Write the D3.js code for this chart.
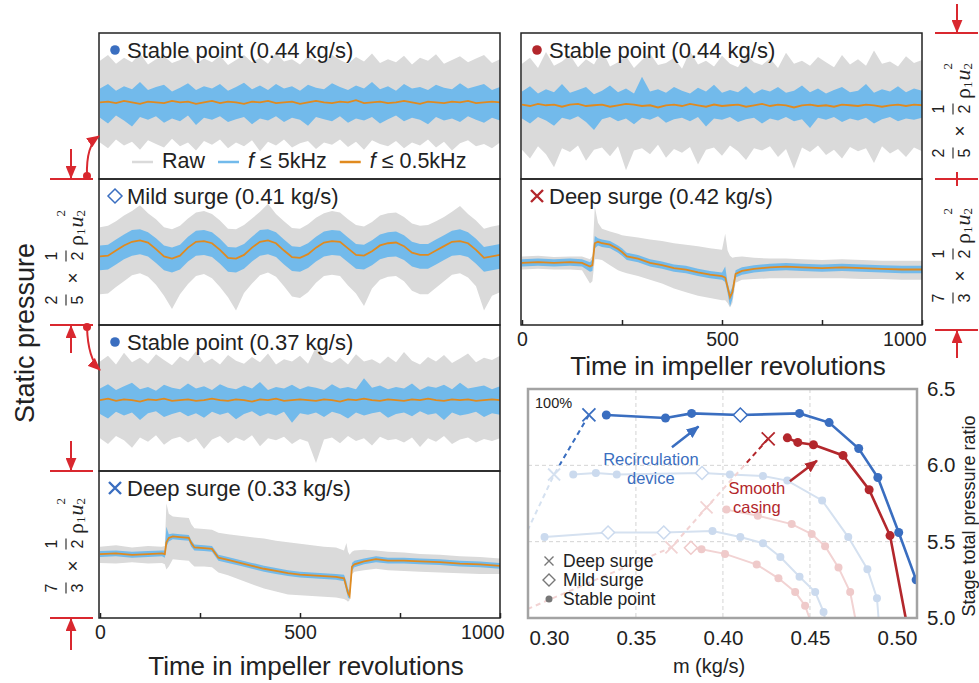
<!DOCTYPE html>
<html>
<head>
<meta charset="utf-8">
<script src="https://cdn.jsdelivr.net/npm/d3@7"></script>
<style>
    body { margin: 0; background: #fff; }
    svg { display: block; }
    text { font-family: 'Liberation Sans', Arial, sans-serif; fill: #222; }
</style>
</head>
<body>
<svg id="chart" width="979" height="683"></svg>
<script>
// 时间轴 (叶轮转数)
const timeTicks = [0, 250, 500, 750, 1000]
const timeTickLabels = ['0', '', '500', '', '1000']

// 稳定点 / 轻度喘振 记录的采样转数
const revGrid = [
    0, 20, 40, 60, 80, 100, 120, 140, 160, 180,
    200, 220, 240, 260, 280, 300, 320, 340, 360, 380,
    400, 420, 440, 460, 480, 500, 520, 540, 560, 580,
    600, 620, 640, 660, 680, 700, 720, 740, 760, 780,
    800, 820, 840, 860, 880, 900, 920, 940, 960, 980,
    1000
]

// 左上: Stable point (0.44 kg/s), recirculation device
const p1RawUp = [
    0.62, 0.70, 0.58, 0.66, 0.60, 0.72, 0.57, 0.64, 0.68, 0.59,
    0.63, 0.71, 0.58, 0.65, 0.60, 0.69, 0.56, 0.63, 0.70, 0.60,
    0.66, 0.58, 0.73, 0.61, 0.64, 0.57, 0.68, 0.62, 0.59, 0.70,
    0.63, 0.58, 0.67, 0.61, 0.72, 0.59, 0.64, 0.60, 0.69, 0.57,
    0.66, 0.62, 0.71, 0.58, 0.63, 0.68, 0.60, 0.65, 0.70, 0.59,
    0.64
]
const p1RawLo = [
    -0.50, -0.58, -0.46, -0.54, -0.49, -0.60, -0.47, -0.52, -0.57, -0.45,
    -0.55, -0.50, -0.61, -0.48, -0.53, -0.46, -0.58, -0.50, -0.55, -0.47,
    -0.62, -0.49, -0.54, -0.46, -0.57, -0.51, -0.48, -0.59, -0.50, -0.53,
    -0.46, -0.56, -0.49, -0.60, -0.47, -0.52, -0.55, -0.48, -0.58, -0.50,
    -0.54, -0.46, -0.57, -0.49, -0.61, -0.51, -0.47, -0.55, -0.52, -0.58,
    -0.50
]
const p1BlueUp = [
    0.24, 0.30, 0.21, 0.27, 0.23, 0.33, 0.22, 0.26, 0.29, 0.20,
    0.25, 0.31, 0.22, 0.27, 0.24, 0.30, 0.21, 0.26, 0.32, 0.23,
    0.28, 0.22, 0.30, 0.24, 0.27, 0.21, 0.29, 0.25, 0.23, 0.31,
    0.26, 0.22, 0.28, 0.24, 0.33, 0.23, 0.27, 0.21, 0.30, 0.24,
    0.26, 0.22, 0.29, 0.25, 0.23, 0.31, 0.24, 0.27, 0.30, 0.22,
    0.26
]
const p1BlueLo = [
    -0.16, -0.24, -0.13, -0.20, -0.28, -0.15, -0.19, -0.14, -0.23, -0.17,
    -0.21, -0.13, -0.26, -0.16, -0.19, -0.14, -0.22, -0.18, -0.15, -0.25,
    -0.17, -0.20, -0.14, -0.22, -0.16, -0.19, -0.27, -0.15, -0.18, -0.21,
    -0.14, -0.23, -0.17, -0.20, -0.15, -0.24, -0.18, -0.13, -0.21, -0.16,
    -0.19, -0.25, -0.15, -0.20, -0.17, -0.22, -0.14, -0.19, -0.23, -0.16,
    -0.20
]
const p1Orange = [
    0.05, 0.06, 0.04, 0.07, 0.05, 0.03, 0.06, 0.05, 0.04, 0.07,
    0.05, 0.06, 0.03, 0.05, 0.07, 0.04, 0.06, 0.05, 0.03, 0.06,
    0.05, 0.07, 0.04, 0.05, 0.06, 0.03, 0.05, 0.07, 0.05, 0.04,
    0.06, 0.05, 0.08, 0.04, 0.05, 0.06, 0.04, 0.05, 0.07, 0.05,
    0.03, 0.06, 0.05, 0.04, 0.06, 0.05, 0.07, 0.04, 0.05, 0.06,
    0.05
]

// 左二: Mild surge (0.41 kg/s)
const p2RawUp = [
    0.34, 0.36, 0.42, 0.50, 0.56, 0.64, 0.53, 0.45, 0.34, 0.31,
    0.36, 0.46, 0.54, 0.56, 0.52, 0.43, 0.32, 0.31, 0.37, 0.46,
    0.55, 0.66, 0.52, 0.42, 0.33, 0.32, 0.38, 0.47, 0.53, 0.56,
    0.54, 0.45, 0.37, 0.35, 0.41, 0.50, 0.53, 0.54, 0.48, 0.39,
    0.36, 0.37, 0.42, 0.48, 0.55, 0.63, 0.52, 0.43, 0.32, 0.35,
    0.37
]
const p2RawLo = [
    -0.58, -0.57, -0.48, -0.40, -0.32, -0.29, -0.34, -0.45, -0.60, -0.78,
    -0.58, -0.44, -0.33, -0.30, -0.36, -0.48, -0.62, -0.80, -0.56, -0.43,
    -0.32, -0.28, -0.34, -0.47, -0.61, -0.63, -0.55, -0.42, -0.33, -0.31,
    -0.33, -0.46, -0.57, -0.74, -0.50, -0.38, -0.34, -0.33, -0.40, -0.53,
    -0.58, -0.58, -0.49, -0.40, -0.31, -0.29, -0.35, -0.47, -0.80, -0.60,
    -0.55
]
const p2BlueUp = [
    0.09, 0.10, 0.17, 0.24, 0.30, 0.31, 0.27, 0.19, 0.09, 0.06,
    0.10, 0.21, 0.29, 0.30, 0.27, 0.18, 0.07, 0.06, 0.11, 0.21,
    0.30, 0.31, 0.27, 0.17, 0.08, 0.07, 0.12, 0.21, 0.28, 0.30,
    0.29, 0.20, 0.11, 0.10, 0.16, 0.24, 0.27, 0.28, 0.23, 0.14,
    0.11, 0.11, 0.17, 0.23, 0.29, 0.31, 0.27, 0.18, 0.07, 0.09,
    0.11
]
const p2BlueLo = [
    -0.25, -0.24, -0.17, -0.10, -0.05, -0.03, -0.06, -0.15, -0.25, -0.28,
    -0.24, -0.13, -0.05, -0.04, -0.07, -0.16, -0.27, -0.28, -0.23, -0.13,
    -0.05, -0.03, -0.07, -0.17, -0.26, -0.27, -0.22, -0.13, -0.06, -0.04,
    -0.05, -0.14, -0.23, -0.24, -0.18, -0.10, -0.07, -0.06, -0.11, -0.20,
    -0.23, -0.23, -0.17, -0.11, -0.05, -0.04, -0.07, -0.16, -0.27, -0.25,
    -0.23
]
const p2Orange = [
    -0.06, -0.05, 0.02, 0.09, 0.14, 0.16, 0.13, 0.04, -0.06, -0.09,
    -0.05, 0.06, 0.14, 0.15, 0.12, 0.03, -0.08, -0.09, -0.04, 0.06,
    0.14, 0.16, 0.12, 0.02, -0.07, -0.08, -0.03, 0.06, 0.13, 0.15,
    0.14, 0.05, -0.04, -0.05, 0.01, 0.09, 0.12, 0.13, 0.08, -0.01,
    -0.04, -0.04, 0.02, 0.08, 0.14, 0.15, 0.12, 0.03, -0.08, -0.06,
    -0.04
]

// 左三: Stable point (0.37 kg/s)
const p3RawUp = [
    0.50, 0.58, 0.46, 0.62, 0.49, 0.55, 0.47, 0.60, 0.52, 0.45,
    0.57, 0.50, 0.64, 0.48, 0.54, 0.46, 0.59, 0.51, 0.47, 0.56,
    0.49, 0.61, 0.46, 0.53, 0.50, 0.58, 0.47, 0.70, 0.52, 0.48,
    0.55, 0.46, 0.60, 0.50, 0.53, 0.47, 0.57, 0.49, 0.63, 0.51,
    0.46, 0.56, 0.50, 0.59, 0.48, 0.54, 0.61, 0.49, 0.55, 0.52,
    0.58
]
const p3RawLo = [
    -0.55, -0.63, -0.52, -0.58, -0.68, -0.54, -0.60, -0.51, -0.64, -0.56,
    -0.53, -0.61, -0.55, -0.70, -0.57, -0.52, -0.62, -0.54, -0.59, -0.51,
    -0.66, -0.55, -0.58, -0.53, -0.63, -0.56, -0.60, -0.89, -0.57, -0.54,
    -0.62, -0.52, -0.59, -0.55, -0.65, -0.53, -0.58, -0.56, -0.61, -0.54,
    -0.67, -0.55, -0.60, -0.52, -0.63, -0.57, -0.54, -0.61, -0.56, -0.59,
    -0.55
]
const p3BlueUp = [
    0.13, 0.19, 0.11, 0.16, 0.21, 0.12, 0.15, 0.10, 0.18, 0.14,
    0.12, 0.20, 0.13, 0.16, 0.11, 0.19, 0.14, 0.12, 0.17, 0.13,
    0.22, 0.11, 0.15, 0.13, 0.18, 0.12, 0.16, 0.14, 0.11, 0.19,
    0.13, 0.15, 0.12, 0.27, 0.14, 0.17, 0.12, 0.15, 0.13, 0.20,
    0.11, 0.16, 0.14, 0.18, 0.12, 0.21, 0.13, 0.15, 0.17, 0.12,
    0.16
]
const p3BlueLo = [
    -0.22, -0.28, -0.19, -0.24, -0.20, -0.30, -0.21, -0.18, -0.26, -0.22,
    -0.19, -0.25, -0.21, -0.27, -0.19, -0.23, -0.20, -0.29, -0.22, -0.18,
    -0.25, -0.21, -0.24, -0.19, -0.34, -0.21, -0.23, -0.20, -0.26, -0.19,
    -0.22, -0.28, -0.20, -0.24, -0.21, -0.19, -0.27, -0.22, -0.20, -0.25,
    -0.18, -0.23, -0.21, -0.30, -0.20, -0.24, -0.22, -0.19, -0.26, -0.21,
    -0.23
]
const p3Orange = [
    -0.03, -0.01, -0.04, -0.02, -0.03, -0.05, -0.02, -0.03, -0.01, -0.04,
    -0.03, -0.02, -0.04, -0.03, -0.01, -0.03, -0.04, -0.02, -0.03, -0.05,
    -0.02, -0.03, -0.01, -0.04, -0.03, -0.02, -0.03, -0.04, -0.02, -0.03,
    -0.05, -0.02, -0.03, -0.01, -0.03, -0.04, -0.02, -0.03, -0.04, -0.02,
    -0.03, -0.01, -0.03, -0.04, -0.02, -0.03, -0.02, -0.04, -0.03, -0.02,
    -0.03
]

// 左下: Deep surge (0.33 kg/s)
const p4Rev = [
    0, 40, 80, 120, 155, 162, 166, 172, 182, 200,
    222, 228, 236, 260, 280, 296, 320, 350, 380, 410,
    440, 470, 500, 530, 560, 590, 610, 616, 620, 624,
    630, 636, 660, 690, 720, 760, 800, 850, 900, 950,
    1000
]
const p4RawUp = [
    -0.03, -0.01, -0.04, -0.02, -0.03, -0.02, 0.56, 0.42, 0.38, 0.37,
    0.36, 0.28, 0.22, 0.21, 0.20, 0.16, 0.14, 0.12, 0.10, 0.08,
    0.05, 0.03, 0.01, -0.01, -0.03, -0.04, -0.08, 0.02, -0.10, -0.14,
    -0.10, -0.08, -0.07, -0.08, -0.10, -0.11, -0.13, -0.14, -0.16, -0.17,
    -0.19
]
const p4RawLo = [
    -0.25, -0.26, -0.24, -0.26, -0.25, -0.27, -0.34, -0.30, -0.20, -0.21,
    -0.22, -0.26, -0.30, -0.30, -0.31, -0.38, -0.42, -0.48, -0.54, -0.60,
    -0.64, -0.68, -0.69, -0.70, -0.71, -0.72, -0.74, -0.76, -0.78, -0.76,
    -0.40, -0.37, -0.35, -0.33, -0.35, -0.36, -0.37, -0.38, -0.39, -0.40,
    -0.40
]
const p4BlueUp = [
    -0.09, -0.08, -0.10, -0.09, -0.08, -0.08, 0.24, 0.14, 0.15, 0.14,
    0.13, 0.06, 0.00, -0.01, -0.02, -0.14, -0.17, -0.21, -0.25, -0.29,
    -0.32, -0.35, -0.37, -0.38, -0.39, -0.40, -0.41, -0.50, -0.60, -0.64,
    -0.25, -0.22, -0.19, -0.16, -0.18, -0.18, -0.19, -0.20, -0.22, -0.23,
    -0.25
]
const p4BlueLo = [
    -0.17, -0.16, -0.18, -0.17, -0.16, -0.18, -0.03, 0.04, 0.07, 0.06,
    0.05, -0.03, -0.08, -0.09, -0.10, -0.22, -0.25, -0.29, -0.33, -0.37,
    -0.40, -0.43, -0.45, -0.46, -0.47, -0.48, -0.50, -0.64, -0.72, -0.74,
    -0.36, -0.31, -0.27, -0.24, -0.26, -0.26, -0.27, -0.28, -0.30, -0.31,
    -0.33
]
const p4Orange = [
    -0.13, -0.12, -0.14, -0.13, -0.12, -0.13, 0.03, 0.09, 0.11, 0.10,
    0.09, 0.02, -0.04, -0.05, -0.06, -0.18, -0.21, -0.25, -0.29, -0.33,
    -0.36, -0.39, -0.41, -0.42, -0.43, -0.44, -0.46, -0.58, -0.66, -0.70,
    -0.30, -0.27, -0.23, -0.20, -0.22, -0.22, -0.23, -0.24, -0.26, -0.27,
    -0.29
]

// 右上: Stable point (0.44 kg/s), smooth casing
const r1RawUp = [
    0.58, 0.66, 0.52, 0.74, 0.55, 0.61, 0.70, 0.53, 0.64, 0.57,
    0.77, 0.54, 0.60, 0.68, 0.52, 0.63, 0.72, 0.56, 0.59, 0.66,
    0.51, 0.75, 0.57, 0.62, 0.54, 0.69, 0.58, 0.53, 0.71, 0.60,
    0.56, 0.65, 0.52, 0.73, 0.58, 0.62, 0.55, 0.67, 0.60, 0.53,
    0.70, 0.57, 0.64, 0.55, 0.76, 0.58, 0.61, 0.54, 0.68, 0.59,
    0.63
]
const r1RawLo = [
    -0.60, -0.72, -0.55, -0.66, -0.84, -0.58, -0.63, -0.54, -0.75, -0.60,
    -0.57, -0.69, -0.55, -0.88, -0.61, -0.58, -0.66, -0.53, -0.71, -0.59,
    -0.64, -0.56, -0.80, -0.60, -0.57, -0.68, -0.54, -0.62, -0.74, -0.58,
    -0.61, -0.55, -0.70, -0.59, -0.86, -0.57, -0.63, -0.54, -0.67, -0.60,
    -0.72, -0.56, -0.62, -0.58, -0.78, -0.55, -0.65, -0.59, -0.70, -0.57,
    -0.62
]
const r1BlueUp = [
    0.20, 0.27, 0.17, 0.23, 0.19, 0.30, 0.18, 0.22, 0.26, 0.16,
    0.21, 0.28, 0.19, 0.24, 0.17, 0.40, 0.20, 0.23, 0.18, 0.26,
    0.21, 0.17, 0.25, 0.20, 0.29, 0.18, 0.22, 0.19, 0.27, 0.17,
    0.23, 0.20, 0.26, 0.18, 0.21, 0.28, 0.19, 0.24, 0.17, 0.22,
    0.26, 0.19, 0.21, 0.30, 0.18, 0.23, 0.20, 0.27, 0.19, 0.24,
    0.21
]
const r1BlueLo = [
    -0.17, -0.24, -0.15, -0.20, -0.27, -0.16, -0.19, -0.14, -0.22, -0.33,
    -0.18, -0.15, -0.21, -0.17, -0.25, -0.16, -0.19, -0.14, -0.23, -0.18,
    -0.16, -0.21, -0.15, -0.28, -0.17, -0.19, -0.15, -0.22, -0.18, -0.16,
    -0.24, -0.17, -0.20, -0.15, -0.21, -0.18, -0.30, -0.16, -0.19, -0.15,
    -0.22, -0.17, -0.20, -0.16, -0.24, -0.18, -0.15, -0.21, -0.17, -0.19,
    -0.16
]
const r1Orange = [
    0.02, 0.00, 0.03, 0.01, 0.02, -0.01, 0.02, 0.03, 0.00, 0.01,
    0.02, -0.01, 0.01, 0.03, 0.02, 0.00, 0.01, -0.02, 0.01, 0.02,
    0.00, 0.03, 0.01, -0.01, 0.02, 0.00, 0.01, 0.02, -0.01, 0.01,
    0.03, 0.00, 0.02, 0.01, -0.02, 0.01, 0.02, 0.00, 0.01, -0.01,
    0.02, 0.01, 0.00, 0.02, 0.01, -0.01, 0.01, 0.02, 0.00, 0.02,
    0.01
]

// 右二: Deep surge (0.42 kg/s)
const r2Rev = [
    0, 40, 80, 120, 150, 170, 176, 182, 190, 200,
    220, 240, 250, 262, 290, 320, 350, 380, 410, 440,
    470, 500, 508, 514, 520, 526, 534, 550, 580, 620,
    660, 700, 750, 800, 850, 900, 950, 1000
]
const r2RawUp = [
    -0.06, -0.05, -0.07, -0.06, -0.06, -0.10, -0.05, 0.62, 0.40, 0.32,
    0.28, 0.25, 0.23, 0.22, 0.20, 0.17, 0.15, 0.12, 0.10, 0.08,
    0.05, 0.03, 0.25, 0.02, -0.05, -0.08, -0.07, -0.06, -0.08, -0.09,
    -0.09, -0.10, -0.11, -0.10, -0.11, -0.12, -0.12, -0.12
]
const r2RawLo = [
    -0.24, -0.23, -0.24, -0.24, -0.25, -0.43, -0.40, -0.10, -0.10, -0.11,
    -0.18, -0.25, -0.27, -0.29, -0.33, -0.38, -0.43, -0.50, -0.55, -0.60,
    -0.63, -0.66, -0.66, -0.70, -0.76, -0.70, -0.42, -0.38, -0.37, -0.36,
    -0.36, -0.36, -0.36, -0.36, -0.37, -0.37, -0.38, -0.38
]
const r2BlueUp = [
    -0.10, -0.09, -0.10, -0.09, -0.10, -0.14, -0.10, 0.22, 0.19, 0.17,
    0.15, 0.09, 0.05, -0.01, -0.04, -0.10, -0.13, -0.17, -0.19, -0.23,
    -0.26, -0.28, -0.20, -0.42, -0.55, -0.48, -0.25, -0.21, -0.18, -0.16,
    -0.15, -0.16, -0.17, -0.16, -0.17, -0.18, -0.19, -0.19
]
const r2BlueLo = [
    -0.20, -0.19, -0.20, -0.19, -0.20, -0.27, -0.26, 0.05, 0.09, 0.07,
    0.05, -0.01, -0.05, -0.11, -0.14, -0.20, -0.23, -0.27, -0.29, -0.33,
    -0.36, -0.38, -0.41, -0.56, -0.75, -0.64, -0.35, -0.31, -0.28, -0.26,
    -0.25, -0.26, -0.27, -0.26, -0.27, -0.28, -0.29, -0.29
]
const r2Orange = [
    -0.15, -0.14, -0.15, -0.14, -0.15, -0.20, -0.18, 0.12, 0.14, 0.12,
    0.10, 0.04, 0.00, -0.06, -0.09, -0.15, -0.18, -0.22, -0.24, -0.28,
    -0.31, -0.33, -0.35, -0.48, -0.62, -0.55, -0.30, -0.26, -0.23, -0.21,
    -0.20, -0.21, -0.22, -0.21, -0.22, -0.23, -0.24, -0.24
]

// 右下: 压比特性 (s = stable, m = mild surge, '' = 无标记)
const massTicks = [0.30, 0.35, 0.40, 0.45, 0.50]
const ratioTicks = [5.0, 5.5, 6.0, 6.5]

const rdMass = [0.333, 0.367, 0.382, 0.410, 0.444, 0.461, 0.478, 0.489, 0.501, 0.511]
const rdRatio = [6.33, 6.31, 6.34, 6.33, 6.34, 6.28, 6.11, 5.92, 5.56, 5.25]
const rdState = ['s', 's', 's', 'm', 's', 's', 's', 's', 's', 's']

const rdLow1Mass = [0.314, 0.327, 0.339, 0.388, 0.404, 0.423, 0.437, 0.457, 0.472, 0.483, 0.4885, 0.4894]
const rdLow1Ratio = [5.94, 5.95, 5.94, 5.95, 5.94, 5.93, 5.90, 5.77, 5.53, 5.32, 5.13, 5.00]
const rdLow1State = ['s', 's', 's', 'm', 's', 's', 's', 's', 's', 's', 's', '']

const rdLow2Mass = [0.2975, 0.334, 0.366, 0.394, 0.410, 0.423, 0.433, 0.444, 0.453, 0.4578, 0.4585]
const rdLow2Ratio = [5.53, 5.56, 5.56, 5.57, 5.53, 5.49, 5.40, 5.27, 5.17, 5.04, 5.00]
const rdLow2State = ['s', 'm', 'm', 's', 's', 's', 's', 's', 's', 's', '']

const rcMass = [0.437, 0.443, 0.452, 0.469, 0.484, 0.496, 0.505]
const rcRatio = [6.18, 6.15, 6.135, 6.065, 5.84, 5.54, 5.00]
const rcState = ['s', 's', 's', 's', 's', 's', '']

const rcLow1Mass = [0.402, 0.420, 0.4395, 0.451, 0.4587, 0.4664, 0.4731, 0.476]
const rcLow1Ratio = [5.71, 5.67, 5.615, 5.55, 5.47, 5.33, 5.17, 5.00]
const rcLow1State = ['s', 's', 's', 's', 's', 's', 's', '']

const rcLow2Mass = [0.3816, 0.3877, 0.4012, 0.4194, 0.4319, 0.4415, 0.4472, 0.4497]
const rcLow2Ratio = [5.46, 5.45, 5.42, 5.35, 5.26, 5.17, 5.08, 5.00]
const rcLow2State = ['m', 's', 's', 's', 's', 's', 's', '']

// 喘振边界 (第一个点为 100% 转速)
const rdSurgeMass = [0.323, 0.303, 0.288]
const rdSurgeRatio = [6.33, 5.94, 5.58]
const rcSurgeMass = [0.426, 0.3906, 0.3704, 0.288]
const rcSurgeRatio = [6.174, 5.724, 5.463, 5.06]

const BLUE = '#3a6ec0'
const DRED = '#b3272c'
const FADE_B = '#d5e1f0'
const FADE_R = '#f2d3d3'
const RAW = '#dadada'
const LOW5K = '#72baeb'
const LOW05K = '#e08a1f'
const ANNO = '#d9282f'
const INK = '#222'

const svg = d3.select('#chart')
const defs = svg.append('defs')

let clipCount = 0
const clipRect = (x, y, w, h) => {
    const id = `clip${clipCount++}`
    defs.append('clipPath').attr('id', id).append('rect')
        .attr('x', x).attr('y', y).attr('width', w).attr('height', h)
    return `url(#${id})`
}

const addHead = (id, color) => {
    defs.append('marker').attr('id', id)
        .attr('viewBox', '0 0 12 10').attr('refX', 11).attr('refY', 5)
        .attr('markerWidth', 13).attr('markerHeight', 11)
        .attr('markerUnits', 'userSpaceOnUse').attr('orient', 'auto')
        .append('path').attr('d', 'M0,0 L12,5 L0,10 z').attr('fill', color)
}
addHead('head-anno', ANNO)
addHead('head-blue', BLUE)
addHead('head-red', DRED)

const markerPath = (kind, s) => {
    if (kind === 'x') return `M${-s},${-s}L${s},${s}M${-s},${s}L${s},${-s}`
    if (kind === 'd') return `M0,${-s}L${s},0L0,${s}L${-s},0Z`
    return d3.symbol(d3.symbolCircle, Math.PI * s * s)()
}

const drawMark = (g, kind, cx, cy, s, color, width = 2) => {
    const p = g.append('path').attr('d', markerPath(kind, s))
        .attr('transform', `translate(${cx},${cy})`)
    if (kind === 'c') {
        p.attr('fill', color)
    } else {
        p.attr('fill', kind === 'd' ? '#fff' : 'none')
            .attr('stroke', color).attr('stroke-width', width)
    }
    return p
}

// 时间序列面板
const drawTrace = (col, top, bottom, rec, title, kind, color) => {
    const x = d3.scaleLinear().domain([0, 1000]).range(col)
    const y = d3.scaleLinear().domain([-1, 1]).range([bottom, top])

    const g = svg.append('g')
        .attr('clip-path', clipRect(col[0], top, col[1] - col[0], bottom - top))
    const band = (lo, hi) => d3.area()
        .x((d, i) => x(rec.t[i]))
        .y0((d, i) => y(lo[i]))
        .y1((d, i) => y(hi[i]))

    g.append('path').datum(rec.t).attr('d', band(rec.rawLo, rec.rawUp)).attr('fill', RAW)
    g.append('path').datum(rec.t).attr('d', band(rec.blueLo, rec.blueUp)).attr('fill', LOW5K)
    g.append('path').datum(rec.t)
        .attr('d', d3.line().x((d, i) => x(rec.t[i])).y((d, i) => y(rec.orange[i])))
        .attr('fill', 'none').attr('stroke', LOW05K).attr('stroke-width', 1.8)

    svg.append('rect')
        .attr('x', col[0] - 1).attr('y', top)
        .attr('width', col[1] - col[0] + 1).attr('height', bottom - top)
        .attr('fill', 'none').attr('stroke', INK).attr('stroke-width', 1.5)

    drawMark(svg, kind, col[0] + 15, top + 17, kind === 'c' ? 4.8 : (kind === 'd' ? 7 : 6), color, kind === 'd' ? 1.5 : 2.4)
    svg.append('text').attr('x', col[0] + 27).attr('y', top + 25)
        .attr('font-size', 22).text(title)
    return x
}

const drawTimeAxis = (x, yPos, titleY) => {
    const ax = svg.append('g').attr('transform', `translate(0,${yPos})`)
        .call(d3.axisBottom(x).tickValues(timeTicks).tickSize(-5).tickPadding(7)
            .tickFormat(d => timeTickLabels[timeTicks.indexOf(d)]))
    ax.select('.domain').remove()
    ax.selectAll('line').attr('stroke', INK).attr('stroke-width', 1.5)
    ax.selectAll('text').attr('font-size', 19.5).style('fill', INK)
    ax.selectAll('.tick:last-of-type text').attr('text-anchor', 'end').attr('dx', 4)

    const r = x.range()
    svg.append('text').attr('x', (r[0] + r[1]) / 2 + 6).attr('y', titleY)
        .attr('text-anchor', 'middle').attr('font-size', 26)
        .text('Time in impeller revolutions')
}

const LEFT = [100, 500]
const RIGHT = [522, 922]
const leftRows = [33, 179, 325, 471, 618]
const rightRows = [33, 179, 325]

drawTrace(LEFT, leftRows[0], leftRows[1],
    { t: revGrid, rawUp: p1RawUp, rawLo: p1RawLo, blueUp: p1BlueUp, blueLo: p1BlueLo, orange: p1Orange },
    'Stable point (0.44 kg/s)', 'c', BLUE)
drawTrace(LEFT, leftRows[1], leftRows[2],
    { t: revGrid, rawUp: p2RawUp, rawLo: p2RawLo, blueUp: p2BlueUp, blueLo: p2BlueLo, orange: p2Orange },
    'Mild surge (0.41 kg/s)', 'd', BLUE)
drawTrace(LEFT, leftRows[2], leftRows[3],
    { t: revGrid, rawUp: p3RawUp, rawLo: p3RawLo, blueUp: p3BlueUp, blueLo: p3BlueLo, orange: p3Orange },
    'Stable point (0.37 kg/s)', 'c', BLUE)
const xLeft = drawTrace(LEFT, leftRows[3], leftRows[4],
    { t: p4Rev, rawUp: p4RawUp, rawLo: p4RawLo, blueUp: p4BlueUp, blueLo: p4BlueLo, orange: p4Orange },
    'Deep surge (0.33 kg/s)', 'x', BLUE)
drawTrace(RIGHT, rightRows[0], rightRows[1],
    { t: revGrid, rawUp: r1RawUp, rawLo: r1RawLo, blueUp: r1BlueUp, blueLo: r1BlueLo, orange: r1Orange },
    'Stable point (0.44 kg/s)', 'c', DRED)
const xRight = drawTrace(RIGHT, rightRows[1], rightRows[2],
    { t: r2Rev, rawUp: r2RawUp, rawLo: r2RawLo, blueUp: r2BlueUp, blueLo: r2BlueLo, orange: r2Orange },
    'Deep surge (0.42 kg/s)', 'x', DRED)

drawTimeAxis(xLeft, leftRows[4], 675)
drawTimeAxis(xRight, rightRows[2], 375)

// 图例 (左上面板内)
const legendItems = [
    { color: RAW, pre: '', text: 'Raw' },
    { color: LOW5K, pre: 'f', text: ' ≤ 5kHz' },
    { color: LOW05K, pre: 'f', text: ' ≤ 0.5kHz' }
]
let lx = 132
legendItems.forEach(item => {
    svg.append('line').attr('x1', lx).attr('x2', lx + 21).attr('y1', 162).attr('y2', 162)
        .attr('stroke', item.color).attr('stroke-width', 2.5)
    const t = svg.append('text').attr('x', lx + 30).attr('y', 168).attr('font-size', 21.5)
    if (item.pre) t.append('tspan').attr('font-style', 'italic').text(item.pre)
    t.append('tspan').text(item.text)
    lx += 30 + t.node().getComputedTextLength() + 13
})

// 纵轴标题与比例尺注释
svg.append('text').attr('transform', 'translate(34,333) rotate(-90)')
    .attr('text-anchor', 'middle').attr('font-size', 27).text('Static pressure')

const drawFactor = (x, yMid, num, den) => {
    const g = svg.append('g').attr('transform', `translate(${x},${yMid + 52}) rotate(-90)`)
    const frac = (cx, a, b) => {
        g.append('line').attr('x1', cx - 5.5).attr('x2', cx + 5.5).attr('y1', 0).attr('y2', 0)
            .attr('stroke', INK).attr('stroke-width', 1.1)
        g.append('text').attr('x', cx).attr('y', -9).attr('text-anchor', 'middle')
            .attr('font-size', 16).text(a)
        g.append('text').attr('x', cx).attr('y', 17).attr('text-anchor', 'middle')
            .attr('font-size', 16).text(b)
    }
    frac(6, num, den)
    g.append('text').attr('x', 28).attr('y', 13).attr('text-anchor', 'middle')
        .attr('font-size', 19).text('×')
    frac(50, '1', '2')
    const t = g.append('text').attr('x', 60).attr('y', 17)
        .style('font-family', "'Liberation Serif', 'DejaVu Serif', serif").attr('font-size', 22)
    t.append('tspan').text('ρ')
    t.append('tspan').attr('font-size', 13).attr('dy', 2).text('1')
    t.append('tspan').attr('font-style', 'italic').attr('dy', -2).attr('dx', 1).text('u')
    t.append('tspan').attr('font-size', 13).attr('dy', 2).text('2')
    t.append('tspan').attr('font-size', 13).attr('dx', -6.5).attr('dy', -20).text('2')
}
drawFactor(66, 254, '2', '5')
drawFactor(66, 542, '7', '3')
drawFactor(953, 107, '2', '5')
drawFactor(953, 252, '7', '3')

const annoLine = (x1, x2, yv) => svg.append('line')
    .attr('x1', x1).attr('x2', x2).attr('y1', yv).attr('y2', yv)
    .attr('stroke', ANNO).attr('stroke-width', 2)
const annoArrow = (d) => svg.append('path').attr('d', d)
    .attr('fill', 'none').attr('stroke', ANNO).attr('stroke-width', 2)
    .attr('marker-end', 'url(#head-anno)')

leftRows.slice(1).forEach(v => annoLine(50, 93, v))
annoArrow(`M71,${leftRows[1] - 30}L71,${leftRows[1] - 1}`)
annoArrow(`M71,${leftRows[2] + 28}L71,${leftRows[2] + 1}`)
annoArrow(`M71,${leftRows[3] - 30}L71,${leftRows[3] - 1}`)
annoArrow(`M71,${leftRows[4] + 32}L71,${leftRows[4] + 1}`)
svg.append('circle').attr('cx', 87).attr('cy', leftRows[1] - 3).attr('r', 4).attr('fill', ANNO)
annoArrow(`M87,${leftRows[1] - 3}Q86,${leftRows[1] - 34} 99,${leftRows[1] - 43}`)
svg.append('circle').attr('cx', 87).attr('cy', leftRows[2] + 2).attr('r', 4).attr('fill', ANNO)
annoArrow(`M87,${leftRows[2] + 2}Q88,${leftRows[2] + 34} 100,${leftRows[2] + 45}`)

const rightMarks = [33, 179, 330]
rightMarks.forEach(v => annoLine(935, 978, v))
annoArrow(`M957,4L957,${rightMarks[0] - 1}`)
svg.append('line').attr('x1', 957).attr('x2', 957).attr('y1', rightMarks[1] - 7).attr('y2', rightMarks[1] + 7)
    .attr('stroke', ANNO).attr('stroke-width', 2)
annoArrow(`M957,${rightMarks[2] + 28}L957,${rightMarks[2] + 1}`)

// 压比-流量特性
const frame = { left: 528, right: 917, top: 389, bottom: 618 }
const mx = d3.scaleLinear().domain([0.288, 0.5115]).range([frame.left, frame.right])
const my = d3.scaleLinear().domain([5.0, 6.5]).range([frame.bottom, frame.top])

const plot = svg.append('g')
    .attr('clip-path', clipRect(frame.left, frame.top, frame.right - frame.left, frame.bottom - frame.top))

massTicks.slice(1, 4).forEach(v => plot.append('line')
    .attr('x1', mx(v)).attr('x2', mx(v)).attr('y1', frame.top).attr('y2', frame.bottom)
    .attr('stroke', '#d4d4d4').attr('stroke-dasharray', '4,3'))
ratioTicks.slice(1, 3).forEach(v => plot.append('line')
    .attr('x1', frame.left).attr('x2', frame.right).attr('y1', my(v)).attr('y2', my(v))
    .attr('stroke', '#d4d4d4').attr('stroke-dasharray', '4,3'))

const speedLine = (mass, ratio, state, lineColor, markColor, width, r) => {
    const pts = mass.map((m, i) => [mx(m), my(ratio[i])])
    plot.append('path').attr('d', d3.line()(pts))
        .attr('fill', 'none').attr('stroke', lineColor).attr('stroke-width', width)
    pts.forEach((p, i) => {
        if (state[i] === 's') drawMark(plot, 'c', p[0], p[1], r, markColor)
        if (state[i] === 'm') drawMark(plot, 'd', p[0], p[1], r + 2.5, markColor, 1.5)
    })
}

const surgeLine = (mass, ratio, dark, fade) => {
    const pts = mass.map((m, i) => [mx(m), my(ratio[i])])
    plot.append('path').attr('d', d3.line()(pts))
        .attr('fill', 'none').attr('stroke', fade).attr('stroke-width', 2)
        .attr('stroke-dasharray', '5,4')
    // 100% 转速段 (6.0 以上为深色)
    plot.append('g').attr('clip-path', clipRect(frame.left, frame.top, frame.right - frame.left, my(6.0) - frame.top))
        .append('path').attr('d', d3.line()(pts.slice(0, 2)))
        .attr('fill', 'none').attr('stroke', dark).attr('stroke-width', 2)
        .attr('stroke-dasharray', '5,4')
    pts.slice(1, -1).forEach(p => drawMark(plot, 'x', p[0], p[1], 6, fade, 1.8))
    drawMark(plot, 'x', pts[0][0], pts[0][1], 6.5, dark, 1.8)
}

speedLine(rdLow2Mass, rdLow2Ratio, rdLow2State, FADE_B, '#cbdaee', 2, 4)
speedLine(rdLow1Mass, rdLow1Ratio, rdLow1State, FADE_B, '#cbdaee', 2, 4)
speedLine(rcLow2Mass, rcLow2Ratio, rcLow2State, FADE_R, '#efcaca', 2, 4)
speedLine(rcLow1Mass, rcLow1Ratio, rcLow1State, FADE_R, '#efcaca', 2, 4)
surgeLine(rdSurgeMass, rdSurgeRatio, BLUE, FADE_B)
surgeLine(rcSurgeMass, rcSurgeRatio, DRED, FADE_R)
speedLine(rdMass, rdRatio, rdState, BLUE, BLUE, 2.6, 4.5)
speedLine(rcMass, rcRatio, rcState, DRED, DRED, 2.6, 4.5)

// 注释文字与箭头
const noteText = (mass, ratio, lines, color) => lines.forEach((s, i) => svg.append('text')
    .attr('x', mx(mass)).attr('y', my(ratio) + i * 19)
    .attr('text-anchor', 'middle').attr('font-size', 16.5).style('fill', color).text(s))
noteText(0.3586, 6.0, ['Recirculation', 'device'], BLUE)
noteText(0.4195, 5.81, ['Smooth', 'casing'], DRED)

const noteArrow = (m0, r0, m1, r1, color, head) => svg.append('line')
    .attr('x1', mx(m0)).attr('y1', my(r0)).attr('x2', mx(m1)).attr('y2', my(r1))
    .attr('stroke', color).attr('stroke-width', 2.5).attr('marker-end', `url(#${head})`)
noteArrow(0.3707, 6.118, 0.386, 6.255, BLUE, 'head-blue')
noteArrow(0.4385, 5.895, 0.454, 6.03, DRED, 'head-red')

svg.append('text').attr('x', frame.left + 7).attr('y', frame.top + 19)
    .attr('font-size', 14.5).text('100%')

const legendRows = [['x', 'Deep surge'], ['d', 'Mild surge'], ['c', 'Stable point']]
legendRows.forEach((row, i) => {
    const cy = 561 + i * 19
    drawMark(svg, row[0], 549, cy, row[0] === 'c' ? 3.5 : (row[0] === 'd' ? 6 : 4.5), '#777', 1.4)
    svg.append('text').attr('x', 563).attr('y', cy + 6).attr('font-size', 17.5).text(row[1])
})

svg.append('rect').attr('x', frame.left).attr('y', frame.top)
    .attr('width', frame.right - frame.left).attr('height', frame.bottom - frame.top)
    .attr('fill', 'none').attr('stroke', '#a3a3a3').attr('stroke-width', 2.5)

const xAx = svg.append('g').attr('transform', `translate(0,${frame.bottom})`)
    .call(d3.axisBottom(mx).tickValues(massTicks).tickSize(0).tickPadding(12).tickFormat(d3.format('.2f')))
const yAx = svg.append('g').attr('transform', `translate(${frame.right},0)`)
    .call(d3.axisRight(my).tickValues(ratioTicks).tickSize(0).tickPadding(10).tickFormat(d3.format('.1f')))
;[xAx, yAx].forEach(ax => {
    ax.select('.domain').remove()
    ax.selectAll('text').attr('font-size', 20.5).style('fill', INK)
})

svg.append('text').attr('x', 709).attr('y', 673).attr('text-anchor', 'middle')
    .attr('font-size', 20).text('m (kg/s)')
svg.append('text').attr('transform', 'translate(975,516) rotate(-90)')
    .attr('text-anchor', 'middle').attr('font-size', 18).text('Stage total pressure ratio')
</script>
</body>
</html>
